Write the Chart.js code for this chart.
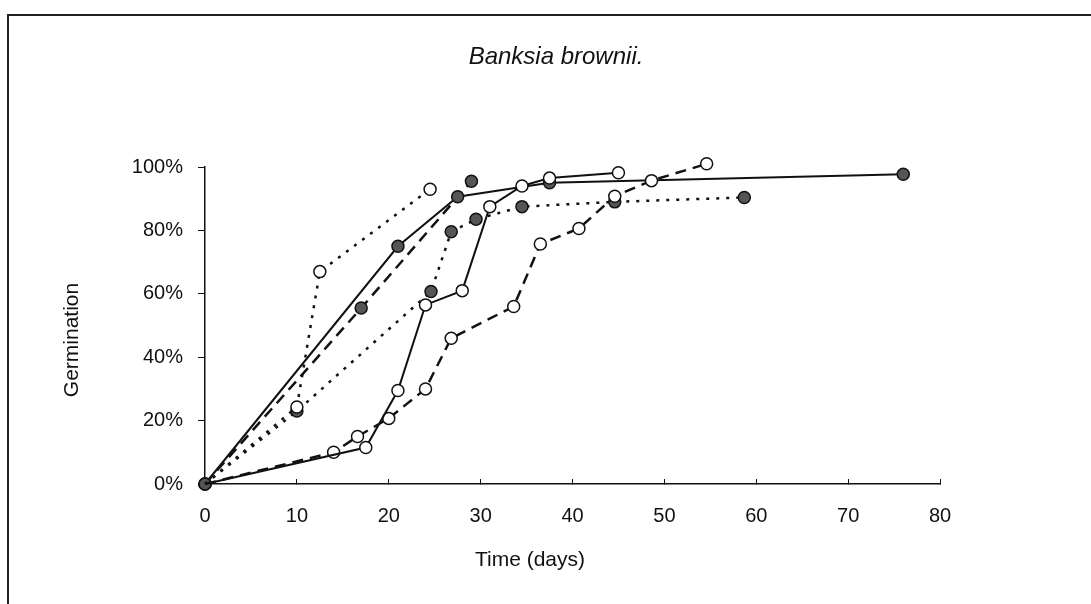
<!DOCTYPE html>
<html>
<head>
<meta charset="utf-8">
<script src="https://cdn.jsdelivr.net/npm/chart.js@4/dist/chart.umd.min.js"></script>
<style>
  html, body { margin: 0; padding: 0; background: #fff; }
  #wrap { position: relative; width: 1091px; height: 604px; overflow: hidden; }
  #frame { position: absolute; left: 7px; top: 14px; width: 1100px; height: 600px;
           border-top: 2px solid #222; border-left: 2px solid #222; }
  canvas { position: absolute; left: 0; top: 0; }
</style>
</head>
<body>
<div id="wrap">
  <div id="frame"></div>
  <canvas id="chart" width="1091" height="604"></canvas>
</div>
<script>
// Banksia brownii germination curves

const xTicks = [0, 10, 20, 30, 40, 50, 60, 70, 80];
const yTicks = [0, 20, 40, 60, 80, 100];

const solidFilledDays = [0, 21, 27.5, 37.5, 76];
const solidFilledGerm = [0, 75, 90.6, 95, 97.7];

const solidOpenDays = [0, 17.5, 21, 24, 28, 31, 34.5, 37.5, 45];
const solidOpenGerm = [0, 11.5, 29.5, 56.5, 61, 87.5, 94, 96.5, 98.2];

const dashedFilledDays = [0, 17, 29];
const dashedFilledGerm = [0, 55.5, 95.5];

const dashedOpenDays = [0, 14, 16.6, 20, 24, 26.8, 33.6, 36.5, 40.7, 44.6, 48.6, 54.6];
const dashedOpenGerm = [0, 10, 15, 20.7, 30, 46, 56, 75.7, 80.6, 90.8, 95.7, 101];

const dottedFilledDays = [0, 10, 24.6, 26.8, 29.5, 34.5, 44.6, 58.7];
const dottedFilledGerm = [0, 23, 60.7, 79.6, 83.5, 87.5, 89, 90.4];

const dottedOpenDays = [0, 10, 12.5, 24.5];
const dottedOpenGerm = [0, 24.3, 67, 93];

const FONT = 'Liberation Sans, Arial, sans-serif';
const INK = '#111';
const GREY = '#555';

function pts(xs, ys) {
  return xs.map((x, i) => ({ x: x, y: ys[i] }));
}

function series(xs, ys, dash, width, filled) {
  return {
    data: pts(xs, ys),
    showLine: true,
    borderColor: INK,
    borderWidth: width,
    borderDash: dash,
    // open markers are hidden at the shared origin so the filled one shows
    pointRadius: filled ? 6 : xs.map(x => (x === 0 ? 0 : 6)),
    pointBorderWidth: 1.5,
    pointBorderColor: INK,
    pointBackgroundColor: filled ? GREY : '#fff',
    clip: false
  };
}

// fixed text: title and axis titles
const textPlugin = {
  id: 'texts',
  afterDraw(chart) {
    const ctx = chart.ctx;
    ctx.save();
    ctx.fillStyle = INK;
    ctx.textAlign = 'center';
    ctx.textBaseline = 'middle';
    ctx.font = 'italic 24px ' + FONT;
    ctx.fillText('Banksia brownii.', 556, 57);
    ctx.font = '21px ' + FONT;
    ctx.fillText('Time (days)', 530, 560);
    ctx.translate(72, 340);
    ctx.rotate(-Math.PI / 2);
    ctx.fillText('Germination', 0, 0);
    ctx.restore();
  }
};

new Chart(document.getElementById('chart'), {
  type: 'scatter',
  data: {
    datasets: [
      series(solidOpenDays, solidOpenGerm, [], 2, false),
      series(dashedOpenDays, dashedOpenGerm, [11, 7], 2.5, false),
      series(dottedOpenDays, dottedOpenGerm, [3, 7], 2.5, false),
      series(solidFilledDays, solidFilledGerm, [], 2, true),
      series(dashedFilledDays, dashedFilledGerm, [11, 7], 2.5, true),
      series(dottedFilledDays, dottedFilledGerm, [3, 7], 2.5, true)
    ]
  },
  options: {
    responsive: false,
    animation: false,
    events: [],
    layout: { padding: { top: 167, right: 151, bottom: 0, left: 0 } },
    plugins: {
      legend: { display: false },
      tooltip: { enabled: false },
      title: { display: false }
    },
    scales: {
      x: {
        type: 'linear',
        min: 0,
        max: 80,
        afterFit(scale) { scale.height = 120; },
        afterBuildTicks(scale) { scale.ticks = xTicks.map(v => ({ value: v })); },
        border: { display: true, color: INK, width: 1.5 },
        grid: { drawOnChartArea: false, drawTicks: true, tickLength: -5, color: INK, lineWidth: 1 },
        ticks: { color: INK, font: { family: FONT, size: 20 }, padding: 25, maxRotation: 0 }
      },
      y: {
        type: 'linear',
        min: 0,
        max: 100,
        afterFit(scale) { scale.width = 205; },
        afterBuildTicks(scale) { scale.ticks = yTicks.map(v => ({ value: v })); },
        border: { display: true, color: INK, width: 1.5 },
        grid: { drawOnChartArea: false, drawTicks: true, tickLength: 7, color: INK, lineWidth: 1 },
        ticks: { color: INK, font: { family: FONT, size: 20 }, padding: 15, callback: v => v + '%' }
      }
    }
  },
  plugins: [textPlugin]
});
</script>
</body>
</html>
